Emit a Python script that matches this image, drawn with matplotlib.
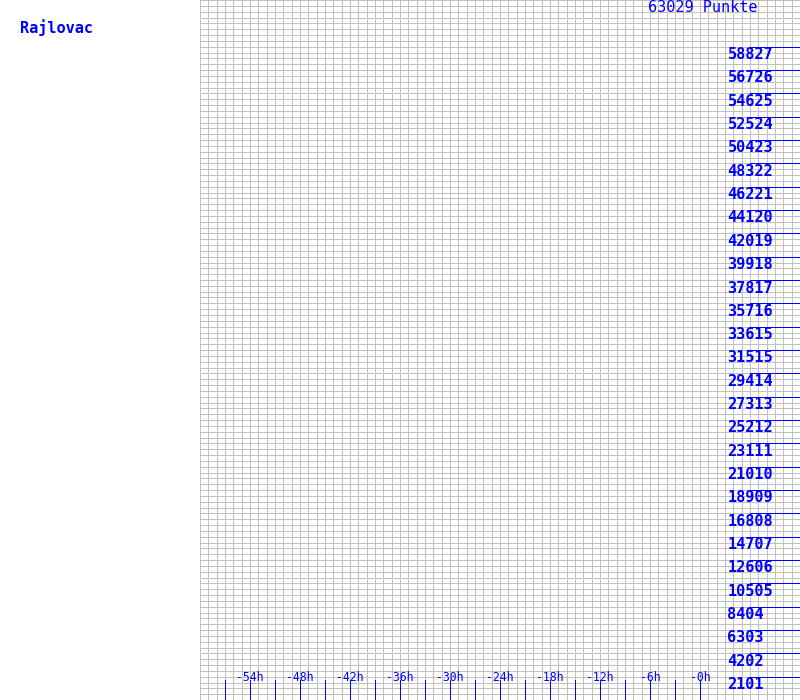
import matplotlib
matplotlib.use("Agg")
import matplotlib.pyplot as plt

# chart data
station = "Rajlovac"
total_points = 63029
y_labels = [2101, 4202, 6303, 8404, 10505, 12606, 14707, 16808, 18909, 21010,
            23111, 25212, 27313, 29414, 31515, 33615, 35716, 37817, 39918, 42019,
            44120, 46221, 48322, 50423, 52524, 54625, 56726, 58827]
x_label_hours = [-54, -48, -42, -36, -30, -24, -18, -12, -6, 0]
x_tick_hours = [-57, -54, -51, -48, -45, -42, -39, -36, -33, -30, -27, -24,
                -21, -18, -15, -12, -9, -6, -3, 0]

blue = "#0000ff"
grey = "#c0c0c0"
mono = ["DejaVu Sans Mono"]
px = 0.72  # one pixel in points at 100 dpi

fig = plt.figure(figsize=(8, 7), dpi=100)
ax = fig.add_axes([0.25, 0, 0.75, 1])
ax.set_xlim(-60, 12)
ax.set_ylim(0, total_points)

# background grid: 72 columns (1h), 120 rows
ax.set_xticks(range(-60, 13))
ax.set_yticks([total_points * i / 120 for i in range(121)])
ax.tick_params(length=0, labelleft=False, labelbottom=False)
ax.grid(True, color=grey, linewidth=px, antialiased=False)
ax.set_axisbelow(True)
for s in ax.spines.values():
    s.set_visible(False)

# y scale marks on the right
ax.hlines(y_labels, 6, 12, color=blue, linewidth=px, antialiased=False, zorder=3)
for v in y_labels:
    ax.text(3.3, v - 720, str(v), color=blue, fontsize=11, fontweight="bold",
            family=mono, ha="left", va="center")

# x scale marks at the bottom
ax.vlines(x_tick_hours, 0, 1801, color=blue, linewidth=px, antialiased=False, zorder=3)
for h in x_label_hours:
    ax.text(h, 2070, "-%dh" % abs(h), color=blue, fontsize=8.3,
            family=mono, ha="center", va="center")

fig.text(648 / 800, 1 - 7 / 700, "%d Punkte" % total_points, color=blue,
         fontsize=11, family=mono, ha="left", va="center")
fig.text(20 / 800, 1 - 28 / 700, station, color=blue, fontsize=11,
         fontweight="bold", family=mono, ha="left", va="center")

fig.savefig("out.png", dpi=100)
